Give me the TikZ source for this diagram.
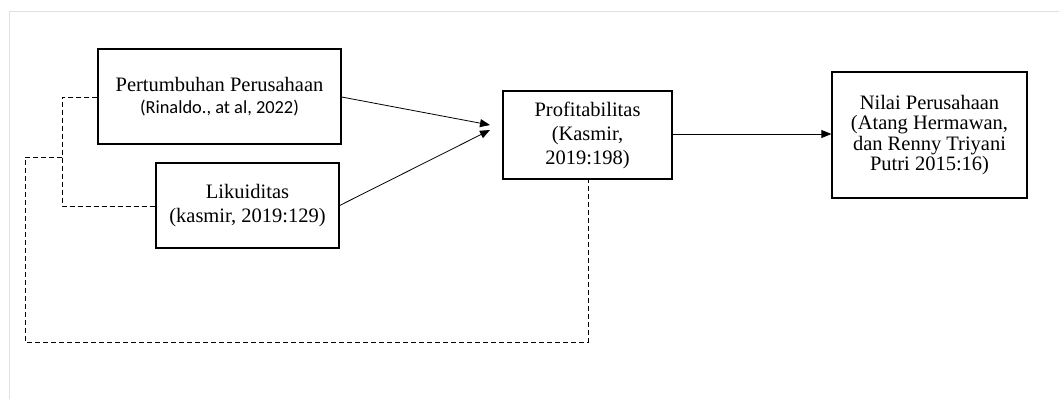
\documentclass[tikz,border=0pt]{standalone}
\usepackage{fontspec}
\setmainfont{Liberation Serif}
\newfontfamily\calfont{Carlito}
\usetikzlibrary{arrows.meta}
\tikzset{
  box/.style={draw=black, line width=1.3pt, inner sep=0pt, align=center, font=\fontsize{20.5}{24}\selectfont},
  conn/.style={line width=0.8pt, -{Triangle[length=10pt,width=8pt]}},
  dsh/.style={line width=0.9pt, dash pattern=on 5pt off 3pt},
  frame/.style={draw=black!12, line width=0.8pt}
}
\begin{document}
\begin{tikzpicture}[x=1pt,y=-1pt]
\useasboundingbox (0,0) rectangle (1059,399);
\draw[frame] (9,399) -- (9,11) -- (1059,11);
\node[box, minimum width=243pt, minimum height=95pt] (pert) at (219.5,96.5)
  {Pertumbuhan Perusahaan\\[-2pt]{\calfont\fontsize{18.4}{20}\selectfont (Rinaldo., at al, 2022)}};
\node[box, minimum width=183pt, minimum height=85pt] (liku) at (247.5,205.5)
  {Likuiditas\\(kasmir, 2019:129)};
\node[box, minimum width=169pt, minimum height=88pt] (prof) at (587.5,135)
  {Profitabilitas\\(Kasmir,\\2019:198)};
\node[box, minimum width=195pt, minimum height=126pt, font=\fontsize{20.5}{20.5}\selectfont] (nilai) at (929.5,135)
  {Nilai Perusahaan\\(Atang Hermawan,\\dan Renny Triyani\\Putri 2015:16)};
\coordinate (tipA) at (490,125);
\coordinate (tipB) at (490,130);
\draw[conn] (pert.east |- 0,97) -- (tipA);
\draw[conn] (liku.east) -- (tipB);
\draw[conn] (prof.east |- 0,134) -- (nilai.west |- 0,134);
\coordinate (j1) at (62,97);
\coordinate (j2) at (62,206);
\coordinate (j3) at (62,157);
\coordinate (o1) at (25,157);
\coordinate (o2) at (25,342);
\coordinate (o3) at (588,342);
\draw[dsh] (pert.west |- j1) -- (j1) -- (j2) -- (liku.west |- j2);
\draw[dsh] (j3) -- (o1) -- (o2) -- (o3) -- (o3 |- prof.south);
\end{tikzpicture}
\end{document}
